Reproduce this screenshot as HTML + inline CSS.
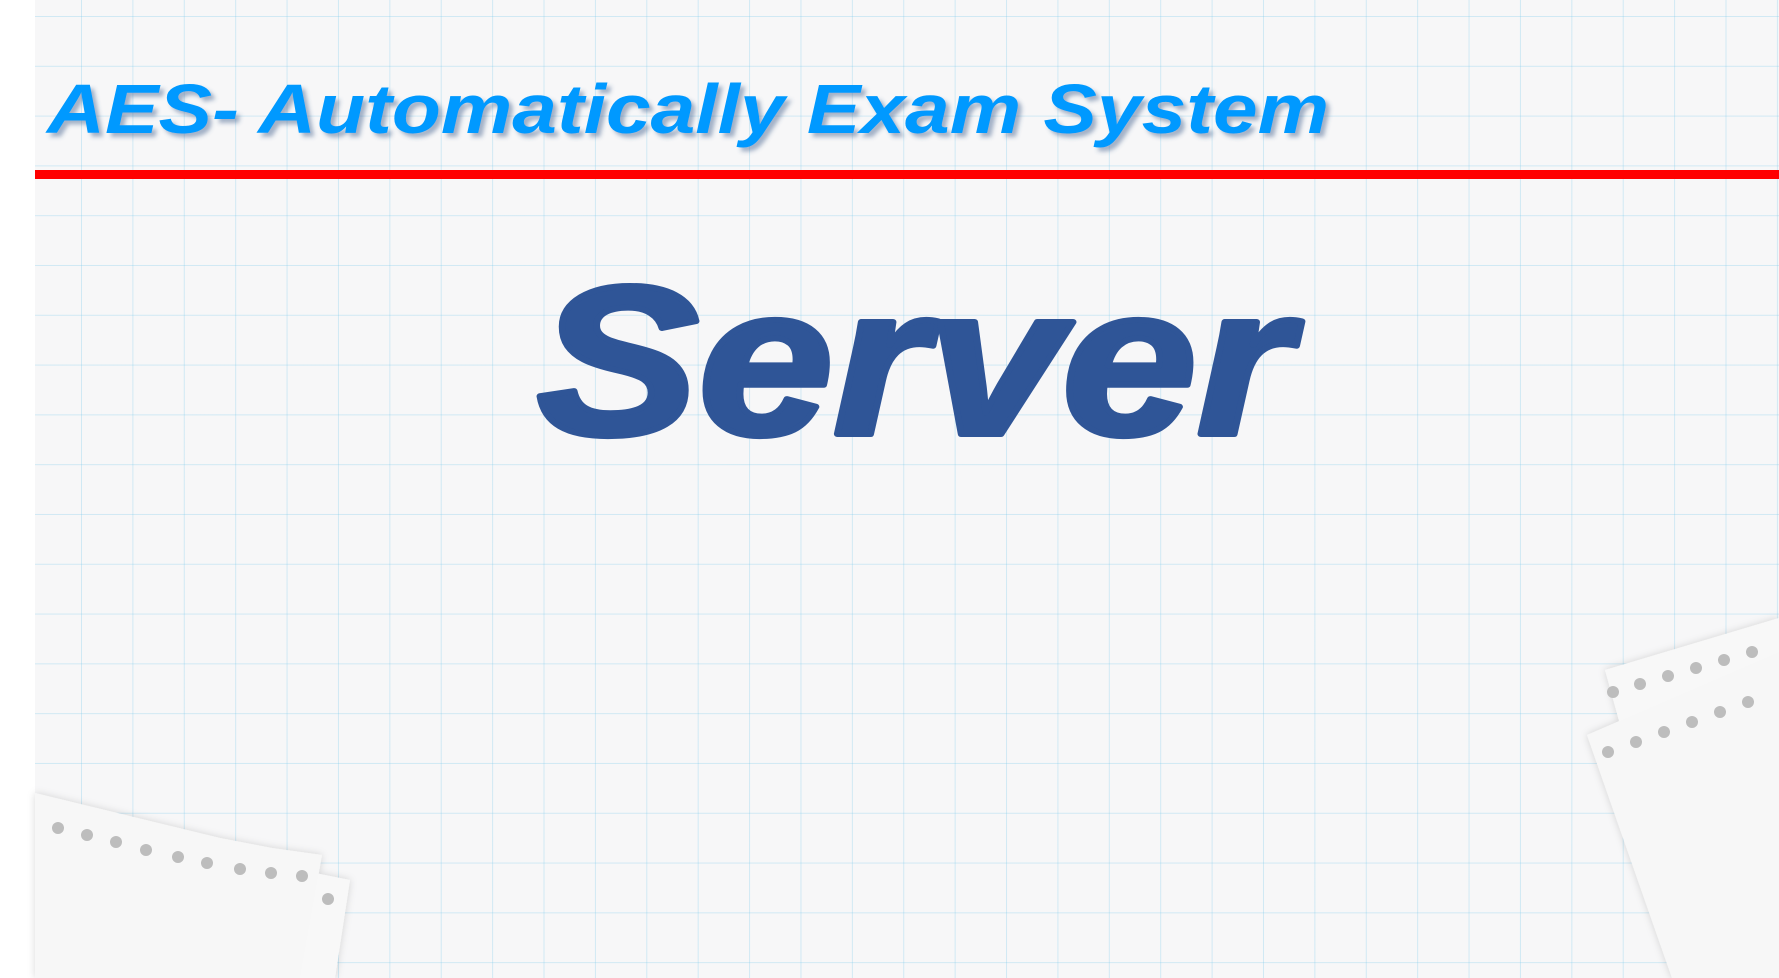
<!DOCTYPE html>
<html><head><meta charset="utf-8"><style>
html,body{margin:0;padding:0;width:1779px;height:978px;overflow:hidden;background:#fff}
.slide{position:absolute;left:35px;top:0;width:1744px;height:978px;background-color:#f7f7f8;
background-image:linear-gradient(to right, rgba(120,200,235,.3) 1px, transparent 1px),linear-gradient(to bottom, rgba(120,200,235,.3) 1px, transparent 1px);
background-size:51.4px 49.8px;background-position:46px 16px;}
.red{position:absolute;left:35px;top:170px;width:1744px;height:9px;background:#ff0000}
svg{position:absolute;left:0;top:0}
</style></head><body>
<div class="slide"></div>
<svg width="1779" height="978">
<defs><filter id="sh"><feDropShadow dx="4" dy="4" stdDeviation="2" flood-color="#3a5a8a" flood-opacity=".45"/></filter>
<filter id="ps"><feDropShadow dx="0" dy="0" stdDeviation="4" flood-color="#000" flood-opacity=".15"/></filter></defs>
<text x="47" y="133" font-family="Liberation Sans, sans-serif" font-weight="bold" font-style="italic" font-size="70" fill="#0099ff" textLength="1282" lengthAdjust="spacingAndGlyphs" filter="url(#sh)">AES- Automatically Exam System</text>
<text x="537" y="434" font-family="Liberation Sans, sans-serif" font-weight="bold" font-style="italic" font-size="212" fill="#2f5597" stroke="#2f5597" stroke-width="6" stroke-linejoin="round" textLength="754" lengthAdjust="spacingAndGlyphs">Server</text>
<g filter="url(#ps)">
<polygon points="35,810 300,870 350,880 335,978 35,978" fill="#f8f8f8"/>
<polygon points="35,793 220,838 272,848 322,855 300,978 35,978" fill="#f7f7f7"/>
<polygon points="1605,670 1779,618 1779,978 1690,978" fill="#f8f8f8"/>
<polygon points="1587,735 1779,652 1779,978 1672,978" fill="#f7f7f7"/>
</g>
<g fill="#bdbdbd">
<circle cx="58" cy="828" r="6"/><circle cx="87" cy="835" r="6"/><circle cx="116" cy="842" r="6"/><circle cx="146" cy="850" r="6"/><circle cx="178" cy="857" r="6"/><circle cx="207" cy="863" r="6"/><circle cx="240" cy="869" r="6"/><circle cx="271" cy="873" r="6"/><circle cx="302" cy="876" r="6"/><circle cx="328" cy="899" r="6"/>
<circle cx="1613" cy="692" r="6"/><circle cx="1640" cy="684" r="6"/><circle cx="1668" cy="676" r="6"/><circle cx="1696" cy="668" r="6"/><circle cx="1724" cy="660" r="6"/><circle cx="1752" cy="652" r="6"/>
<circle cx="1608" cy="752" r="6"/><circle cx="1636" cy="742" r="6"/><circle cx="1664" cy="732" r="6"/><circle cx="1692" cy="722" r="6"/><circle cx="1720" cy="712" r="6"/><circle cx="1748" cy="702" r="6"/>
</g>
</svg>
<div class="red"></div>
</body></html>
